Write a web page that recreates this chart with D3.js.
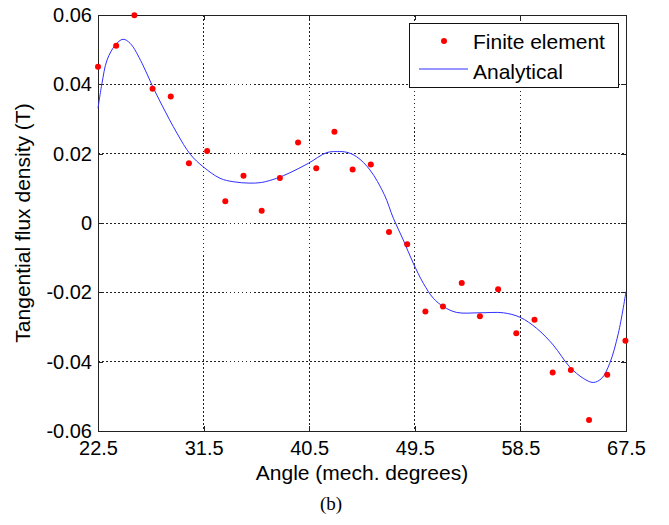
<!DOCTYPE html>
<html>
<head>
<meta charset="utf-8">
<script src="https://cdn.jsdelivr.net/npm/d3@7"></script>
<style>
  html, body { margin: 0; padding: 0; background: #fff; }
  svg { display: block; }
  text { font-family: "Liberation Sans", Arial, Helvetica, sans-serif; fill: #000; }
</style>
</head>
<body>
<svg id="chart" width="669" height="525"></svg>
<script>
// Finite element results: angle (mech. degrees) and tangential flux density (T)
const feAngle = [22.5, 24.05, 25.6, 27.15, 28.7, 30.25, 31.8, 33.35, 34.9, 36.45,
                 38.0, 39.55, 41.1, 42.65, 44.2, 45.75, 47.3, 48.85, 50.4, 51.9,
                 53.5, 55.05, 56.6, 58.15, 59.7, 61.25, 62.8, 64.35, 65.9, 67.45];
const feFlux = [0.0451, 0.0511, 0.0599, 0.0387, 0.0365, 0.0172, 0.0208, 0.0063, 0.0136, 0.0035,
                0.0130, 0.0232, 0.0158, 0.0263, 0.0154, 0.0169, -0.0026, -0.0061, -0.0255, -0.0241,
                -0.0173, -0.0269, -0.0191, -0.0318, -0.0279, -0.0431, -0.0424, -0.0568, -0.0438, -0.0340];

// Analytical solution sampled along the angle range
const anAngle = [22.5, 22.84, 23.27, 23.97, 24.63, 25.25, 26.25, 27.1, 27.95, 29.23,
                 30.37, 31.47, 32.9, 34.03, 35.45, 36.45, 37.73, 38.86, 40.42, 41.99,
                 42.9, 43.7, 44.55, 45.68, 46.9, 47.67, 48.52, 49.37, 50.23, 51.08,
                 51.93, 53.07, 55.06, 57.04, 58.47, 59.89, 61.3, 62.7, 63.86, 64.71,
                 65.43, 66.11, 66.85, 67.5];
const anFlux = [0.0331, 0.0403, 0.0470, 0.0513, 0.0530, 0.0518, 0.0461, 0.0398, 0.0340, 0.0259,
                0.0198, 0.0162, 0.0129, 0.0119, 0.0115, 0.0117, 0.0129, 0.0145, 0.0172, 0.0203,
                0.0206, 0.0204, 0.0191, 0.0153, 0.0082, 0.0014, -0.0049, -0.0116, -0.0174, -0.0217,
                -0.0241, -0.0258, -0.0259, -0.0259, -0.0272, -0.0304, -0.0352, -0.0415, -0.0448, -0.0460,
                -0.0448, -0.0405, -0.0318, -0.0198];

const xTicks = [22.5, 31.5, 40.5, 49.5, 58.5, 67.5];
const yTicks = [-0.06, -0.04, -0.02, 0, 0.02, 0.04, 0.06];
const seriesNames = ["Finite element", "Analytical"];
const xTitle = "Angle (mech. degrees)";
const yTitle = "Tangential flux density (T)";
const caption = "(b)";

const svg = d3.select("#chart");
const plotL = 98, plotR = 626, plotT = 15, plotB = 431;

const x = d3.scaleLinear().domain([22.5, 67.5]).range([plotL, plotR]);
const y = d3.scaleLinear().domain([-0.06, 0.06]).range([plotB, plotT]);

const fmtY = d => d === 0 ? "0" : d3.format(".2f")(d).replace("\u2212", "-");
const fmtX = d => d3.format(".1f")(d);

// dotted grid
const grid = svg.append("g");
grid.selectAll("line.vx").data(xTicks.slice(1, -1)).join("line").attr("class", "vx")
  .attr("x1", d => x(d)).attr("x2", d => x(d)).attr("y1", plotT).attr("y2", plotB);
grid.selectAll("line.hy").data(yTicks.slice(1, -1)).join("line").attr("class", "hy")
  .attr("x1", plotL).attr("x2", plotR).attr("y1", d => y(d)).attr("y2", d => y(d));
grid.selectAll("line")
  .attr("stroke", "#222").attr("stroke-width", 1).attr("stroke-dasharray", "1.5,2.5")
  .attr("shape-rendering", "crispEdges");

// axes with inward ticks on all four sides
const tickStyle = g => {
  g.select(".domain").remove();
  g.selectAll(".tick line").attr("stroke", "#222").attr("shape-rendering", "crispEdges");
};
svg.append("g").attr("transform", `translate(0,${plotB})`)
  .call(d3.axisBottom(x).tickValues(xTicks).tickFormat(fmtX).tickSizeInner(-5).tickSizeOuter(0))
  .call(tickStyle)
  .call(g => g.selectAll("text").attr("font-size", 20).attr("font-family", "Liberation Sans, Arial, sans-serif").attr("fill", "#000").attr("y", 10).attr("dy", "0.7em"));
svg.append("g").attr("transform", `translate(0,${plotT})`)
  .call(d3.axisTop(x).tickValues(xTicks).tickFormat("").tickSizeInner(-5).tickSizeOuter(0))
  .call(tickStyle);
svg.append("g").attr("transform", `translate(${plotL},0)`)
  .call(d3.axisLeft(y).tickValues(yTicks).tickFormat(fmtY).tickSizeInner(-5).tickSizeOuter(0))
  .call(tickStyle)
  .call(g => g.selectAll("text").attr("font-size", 20).attr("font-family", "Liberation Sans, Arial, sans-serif").attr("fill", "#000").attr("x", -6));
svg.append("g").attr("transform", `translate(${plotR},0)`)
  .call(d3.axisRight(y).tickValues(yTicks).tickFormat("").tickSizeInner(-5).tickSizeOuter(0))
  .call(tickStyle);

// plot box
svg.append("rect")
  .attr("x", plotL).attr("y", plotT).attr("width", plotR - plotL).attr("height", plotB - plotT)
  .attr("fill", "none").attr("stroke", "#222").attr("stroke-width", 1).attr("shape-rendering", "crispEdges");

// analytical curve
const line = d3.line().x((d, i) => x(anAngle[i])).y(d => y(d)).curve(d3.curveCatmullRom.alpha(0.5));
svg.append("path").datum(anFlux)
  .attr("d", line).attr("fill", "none").attr("stroke", "#2f2fff").attr("stroke-width", 1);

// finite element points
svg.append("g").selectAll("circle").data(feFlux).join("circle")
  .attr("cx", (d, i) => x(feAngle[i])).attr("cy", d => y(d)).attr("r", 3).attr("fill", "#ff0000");

// legend
const lg = svg.append("g");
lg.append("rect").attr("x", 409.5).attr("y", 23.5).attr("width", 209).attr("height", 64)
  .attr("fill", "#fff").attr("stroke", "#111").attr("stroke-width", 1);
lg.append("circle").attr("cx", 444).attr("cy", 41).attr("r", 3).attr("fill", "#ff0000");
lg.append("line").attr("x1", 419).attr("x2", 468).attr("y1", 69).attr("y2", 69)
  .attr("stroke", "#2f2fff").attr("stroke-width", 1);
lg.append("text").attr("x", 473).attr("y", 48.5).attr("font-size", 21).text(seriesNames[0]);
lg.append("text").attr("x", 473).attr("y", 79).attr("font-size", 21).text(seriesNames[1]);

// axis titles and caption
svg.append("text").attr("x", (plotL + plotR) / 2).attr("y", 480).attr("text-anchor", "middle")
  .attr("font-size", 21).text(xTitle);
svg.append("text").attr("transform", `translate(30,${(plotT + plotB) / 2}) rotate(-90)`)
  .attr("text-anchor", "middle").attr("font-size", 21).text(yTitle);
svg.append("text").attr("x", 331).attr("y", 510).attr("text-anchor", "middle")
  .attr("font-size", 19).style("font-family", "'Liberation Serif', 'Times New Roman', serif").text(caption);
</script>
</body>
</html>
